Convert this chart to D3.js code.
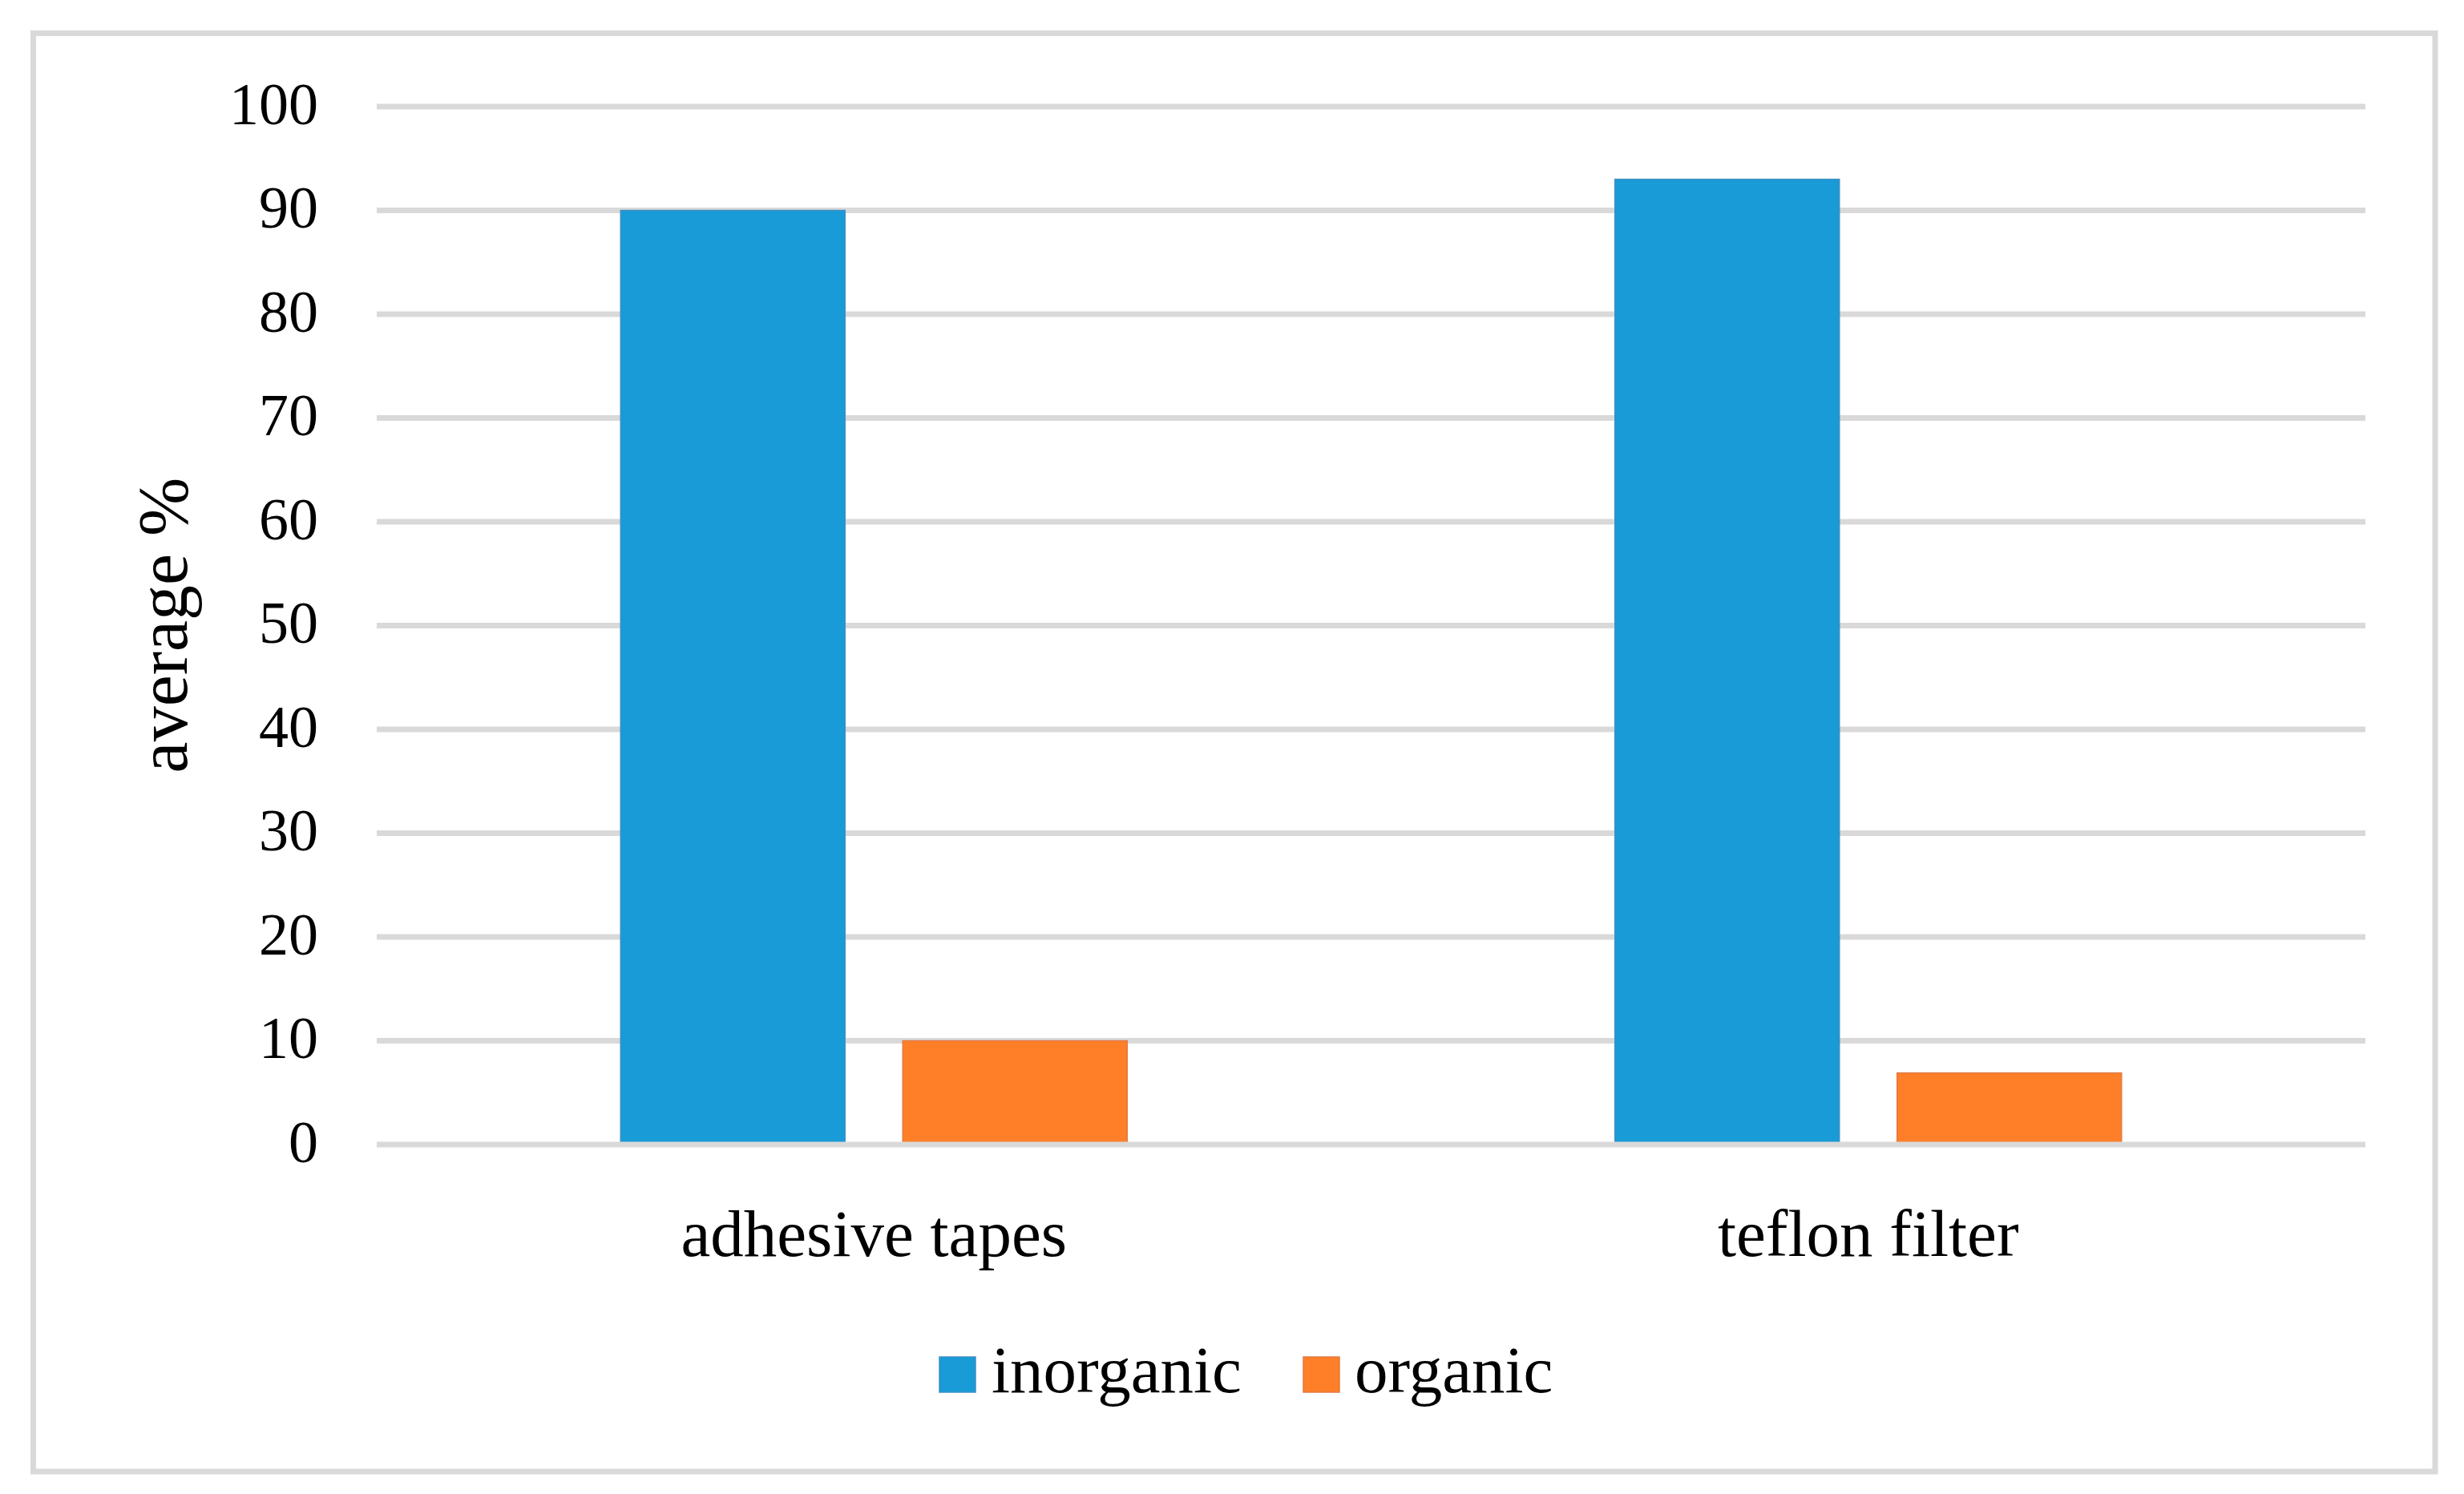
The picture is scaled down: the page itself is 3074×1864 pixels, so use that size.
<!DOCTYPE html>
<html>
<head>
<meta charset="utf-8">
<script src="https://cdn.jsdelivr.net/npm/d3@7"></script>
<style>
  html, body { margin: 0; padding: 0; background: #ffffff; }
  svg { display: block; }
  text { font-family: "Liberation Serif", "DejaVu Serif", serif; fill: #000; }
</style>
</head>
<body>
<script>
// ---- data ----
const categories = ["adhesive tapes", "teflon filter"];
const seriesNames = ["inorganic", "organic"];
const inorganicValues = [90, 93];
const organicValues = [10, 6.9];
const yTicks = [0, 10, 20, 30, 40, 50, 60, 70, 80, 90, 100];
const yTitle = "average %";

// ---- layout ----
const W = 3074, H = 1864;
const plot = { left: 470, right: 2951, top: 133, bottom: 1428 };
const colors = { inorganic: "#189bd7", organic: "#fe7f27" };
const edges = { inorganic: "#3f8fc4", organic: "#e27a45" };

const svg = d3.select("body").append("svg").attr("width", W).attr("height", H);
svg.append("rect").attr("width", W).attr("height", H).attr("fill", "#fff");

// chart frame
svg.append("rect")
  .attr("x", 41.5).attr("y", 41.5)
  .attr("width", 3038 - 41.5).attr("height", 1836 - 41.5)
  .attr("fill", "none").attr("stroke", "#d9d9d9").attr("stroke-width", 7);

const y = d3.scaleLinear().domain([0, 100]).range([plot.bottom, plot.top]);
const x0 = d3.scaleBand().domain(categories).range([plot.left, plot.right]).padding(0);
const bw = x0.bandwidth();
const clusterFrac = 632 / 1240.5;
const x1 = d3.scaleBand().domain(seriesNames)
  .range([bw * (1 - clusterFrac) / 2, bw * (1 + clusterFrac) / 2])
  .paddingInner(0.2045).paddingOuter(0);

// gridlines (behind bars)
svg.append("g").selectAll("line").data(yTicks.filter(d => d !== 0)).join("line")
  .attr("x1", plot.left).attr("x2", plot.right)
  .attr("y1", d => y(d)).attr("y2", d => y(d))
  .attr("stroke", "#d9d9d9").attr("stroke-width", 7);

// bars
const rows = categories.map((c, i) => ({ cat: c, inorganic: inorganicValues[i], organic: organicValues[i] }));
const g = svg.append("g");
rows.forEach(r => {
  seriesNames.forEach(s => {
    g.append("rect")
      .attr("x", x0(r.cat) + x1(s))
      .attr("y", y(r[s]))
      .attr("width", x1.bandwidth())
      .attr("height", y(0) - y(r[s]))
      .attr("fill", colors[s])
      .attr("stroke", edges[s]).attr("stroke-width", 1.5);
  });
});

// zero axis line on top
svg.append("line")
  .attr("x1", plot.left).attr("x2", plot.right)
  .attr("y1", y(0)).attr("y2", y(0))
  .attr("stroke", "#d9d9d9").attr("stroke-width", 7);

// y tick labels
const yAxis = d3.axisLeft(y).tickValues(yTicks).tickSize(0).tickPadding(0);
const ya = svg.append("g").attr("transform", "translate(397,0)").call(yAxis);
ya.select(".domain").remove();
ya.selectAll("text")
  .attr("font-family", "Liberation Serif").attr("font-size", 74)
  .attr("dy", null).attr("y", 21).attr("fill", "#000");

// category labels
const xAxis = d3.axisBottom(x0).tickSize(0).tickPadding(0);
const xa = svg.append("g").attr("transform", "translate(0,1567)").call(xAxis);
xa.select(".domain").remove();
xa.selectAll("text")
  .attr("font-family", "Liberation Serif").attr("font-size", 83)
  .attr("dy", null).attr("y", 0).attr("fill", "#000");

// y title
svg.append("text")
  .attr("transform", "translate(233,780) rotate(-90)")
  .attr("text-anchor", "middle")
  .attr("font-size", 88)
  .text(yTitle);

// legend
const legendItems = [
  { name: "inorganic", sx: 1172, tx: 1237 },
  { name: "organic", sx: 1626, tx: 1690 }
];
const lg = svg.append("g");
legendItems.forEach(it => {
  lg.append("rect").attr("x", it.sx).attr("y", 1693).attr("width", 45).attr("height", 44)
    .attr("fill", colors[it.name]).attr("stroke", edges[it.name]).attr("stroke-width", 1.5);
  lg.append("text").attr("x", it.tx).attr("y", 1737).attr("font-size", 83).text(it.name);
});
</script>
</body>
</html>
